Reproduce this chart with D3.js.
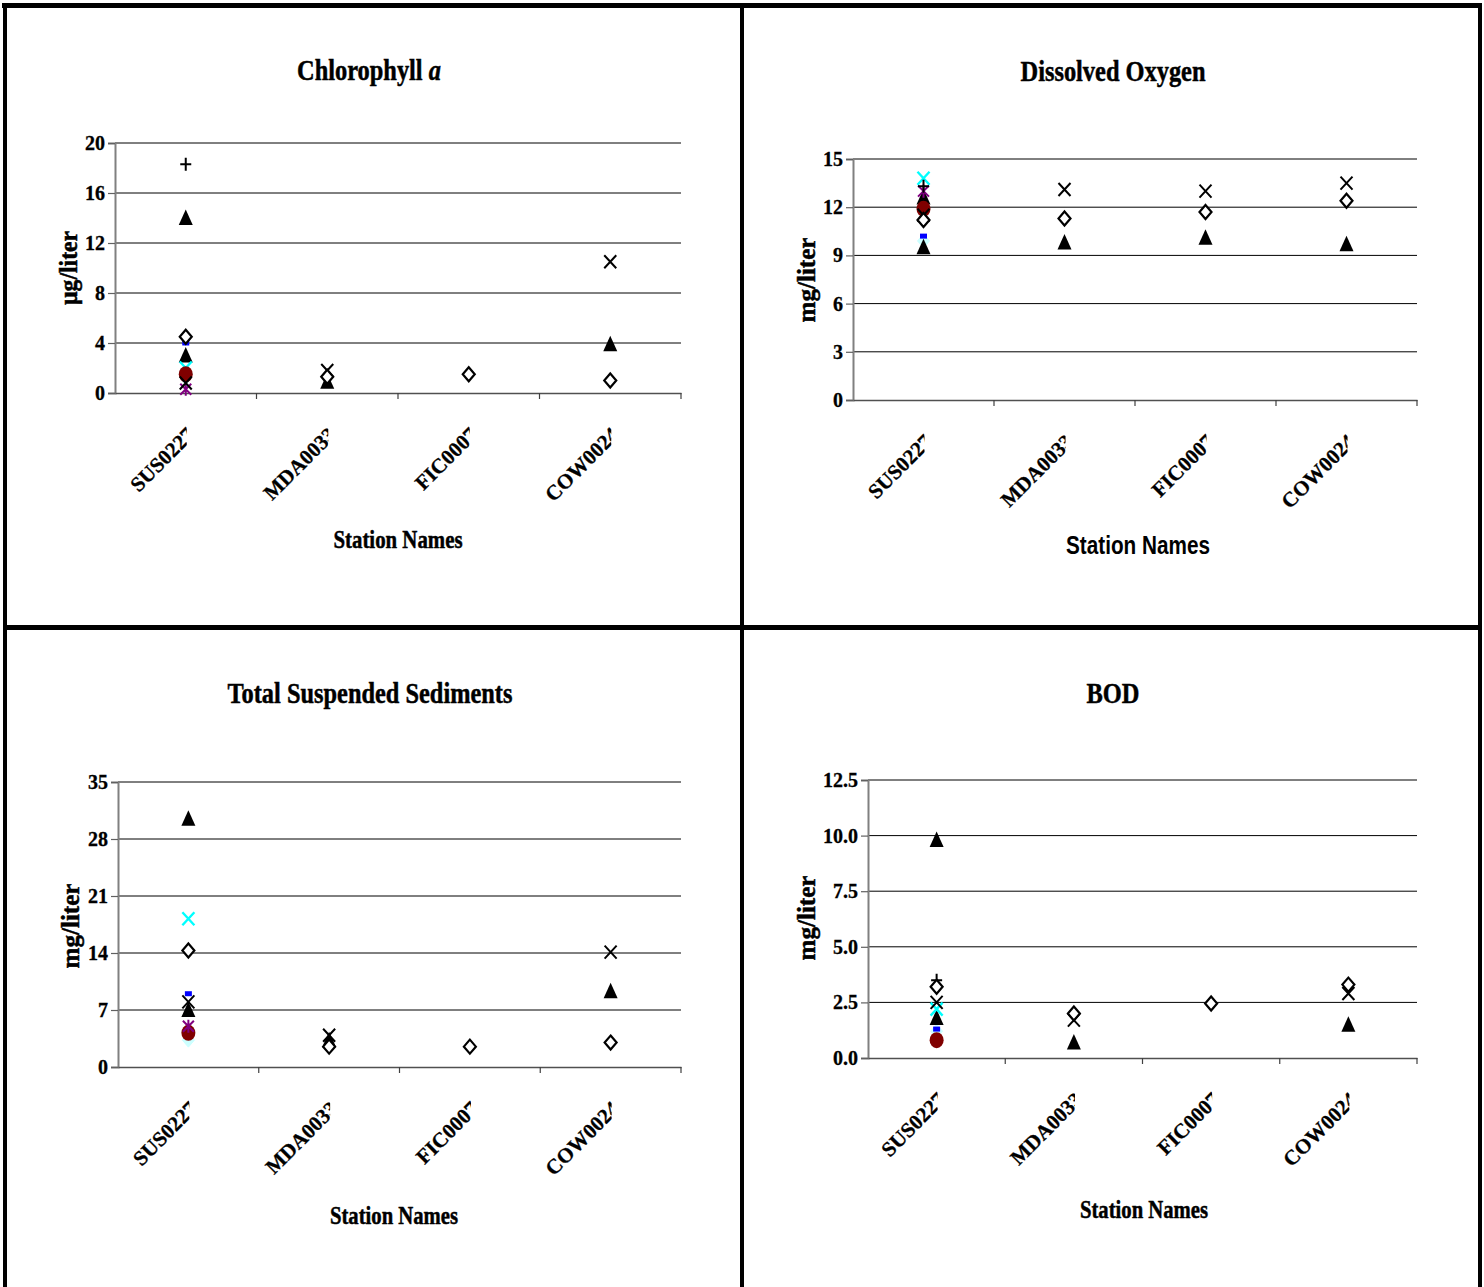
<!DOCTYPE html>
<html><head><meta charset="utf-8">
<script src="https://cdn.jsdelivr.net/npm/d3@7"></script>
<style>
html,body{margin:0;padding:0;background:#fff;}
svg{display:block;font-family:"Liberation Serif","Times New Roman",serif;}
text{font-weight:bold;}
</style></head><body>
<svg id="chart" width="1484" height="1287"></svg>
<script>
// ---------------- DATA ----------------
const stations = ["SUS0227", "MDA0033", "FIC0007", "COW0024"];
// series in drawing order (later ones are drawn on top)
const seriesKeys = ["diamondPale", "dashBlue", "triangle2", "xCyan", "circleRed", "starPurple", "xBlack", "plus", "triangle", "diamondOpen"];

const chlTicks = [0, 4, 8, 12, 16, 20];
const doTicks = [0, 3, 6, 9, 12, 15];
const tssTicks = [0, 7, 14, 21, 28, 35];
const bodTicks = [0, 2.5, 5, 7.5, 10, 12.5];

// rows follow seriesKeys, columns follow stations
const chlValues = [
  [1.2, null, null, null],
  [4.0, null, null, null],
  [3.0, null, null, null],
  [2.0, null, null, null],
  [1.5, null, null, null],
  [0.3, null, null, null],
  [0.8, 1.8, null, 10.5],
  [18.3, null, null, null],
  [14.0, 0.9, null, 3.9],
  [4.5, 1.3, 1.5, 1.0]
];
const doValues = [
  [9.9, null, null, null],
  [10.2, null, null, null],
  [12.6, null, null, null],
  [13.8, null, null, null],
  [11.9, null, null, null],
  [13.0, null, null, null],
  [11.5, 13.1, 13.0, 13.5],
  [13.3, null, null, null],
  [9.5, 9.8, 10.1, 9.7],
  [11.2, 11.3, 11.7, 12.4]
];
const tssValues = [
  [3.3, null, null, null],
  [9.0, null, null, null],
  [7.0, null, null, null],
  [18.2, null, null, null],
  [4.2, null, null, null],
  [5.0, null, null, null],
  [8.0, 3.9, null, 14.1],
  [null, null, null, null],
  [30.5, 3.3, null, 9.3],
  [14.3, 2.5, 2.5, 3.0]
];
const bodValues = [
  [1.2, null, null, null],
  [1.3, null, null, null],
  [1.8, null, null, null],
  [2.2, null, null, null],
  [0.8, null, null, null],
  [null, null, null, null],
  [2.5, 1.7, null, 2.9],
  [3.5, null, null, null],
  [9.8, 0.7, null, 1.5],
  [3.2, 2.0, 2.45, 3.3]
];

// ---------------- STYLES / LAYOUT ----------------
const markerStyle = {
  diamondOpen: {d: "M0,-7L6,0L0,7L-6,0Z", fill: "#fff", stroke: "#000", sw: 2.2},
  diamondPale: {d: "M0,-7L6,0L0,7L-6,0Z", fill: "#CCFFFF", stroke: "#CCFFFF", sw: 1},
  triangle: {d: "M0,-8.5L7,7L-7,7Z", fill: "#000", stroke: "none", sw: 0},
  triangle2: {d: "M0,-8.5L7,7L-7,7Z", fill: "#000", stroke: "none", sw: 0},
  xBlack: {d: "M-6,-6.5L6,6.5M6,-6.5L-6,6.5", fill: "none", stroke: "#000", sw: 2},
  xCyan: {d: "M-6,-6.5L6,6.5M6,-6.5L-6,6.5", fill: "none", stroke: "#00FFFF", sw: 2.4},
  plus: {d: "M-5.5,0L5.5,0M0,-6.5L0,6.5", fill: "none", stroke: "#000", sw: 2},
  circleRed: {ellipse: true, rx: 7, ry: 8, fill: "#800000"},
  dashBlue: {d: "M-3.5,-2.5h7v5h-7Z", fill: "#0000FF", stroke: "none", sw: 0},
  starPurple: {d: "M-5.5,-5.5L5.5,5.5M5.5,-5.5L-5.5,5.5M0,-6.5L0,6.5", fill: "none", stroke: "#800080", sw: 2}
};

const SERIF = '"Liberation Serif","Times New Roman",serif';
const SANS = '"Liberation Sans",Arial,sans-serif';

const panels = [
  {id: "chl", title: "Chlorophyll ", titleItalic: "a", values: chlValues, ticks: chlTicks, fmt: d3.format("d"),
   yTitle: "µg/liter", box: {x0: 115, x1: 681, y0: 143, y1: 393},
   tX: 369, tY: 80, tLen: 144, ytX: 77, ytY: 268, ytLen: 74,
   xtX: 398, xtY: 548, xtLen: 129, xtFont: SERIF},
  {id: "do", title: "Dissolved Oxygen", values: doValues, ticks: doTicks, fmt: d3.format("d"),
   yTitle: "mg/liter", box: {x0: 853, x1: 1417, y0: 159, y1: 400},
   tX: 1113, tY: 81, tLen: 185, ytX: 815, ytY: 280, ytLen: 85,
   xtX: 1138, xtY: 554, xtLen: 144, xtFont: SANS},
  {id: "tss", title: "Total Suspended Sediments", values: tssValues, ticks: tssTicks, fmt: d3.format("d"),
   yTitle: "mg/liter", box: {x0: 118, x1: 681, y0: 782, y1: 1067},
   tX: 370, tY: 703, tLen: 285, ytX: 79, ytY: 926, ytLen: 85,
   xtX: 394, xtY: 1224, xtLen: 128, xtFont: SERIF},
  {id: "bod", title: "BOD", values: bodValues, ticks: bodTicks, fmt: d3.format(".1f"),
   yTitle: "mg/liter", box: {x0: 868, x1: 1417, y0: 780, y1: 1058},
   tX: 1113, tY: 703, tLen: 53, ytX: 815, ytY: 918, ytLen: 85,
   xtX: 1144, xtY: 1218, xtLen: 128, xtFont: SERIF}
];

const svg = d3.select("#chart");

// panel frames
const frame = svg.append("g");
frame.append("line").attr("x1", 2).attr("x2", 1482).attr("y1", 5.5).attr("y2", 5.5).attr("stroke", "#000").attr("stroke-width", 5);
frame.append("line").attr("x1", 5).attr("x2", 5).attr("y1", 3).attr("y2", 1287).attr("stroke", "#000").attr("stroke-width", 4);
frame.append("line").attr("x1", 742).attr("x2", 742).attr("y1", 3).attr("y2", 1287).attr("stroke", "#000").attr("stroke-width", 4);
frame.append("line").attr("x1", 1480).attr("x2", 1480).attr("y1", 3).attr("y2", 1287).attr("stroke", "#000").attr("stroke-width", 4);
frame.append("line").attr("x1", 3).attr("x2", 1482).attr("y1", 627.5).attr("y2", 627.5).attr("stroke", "#000").attr("stroke-width", 5);

const heavy = sel => sel.attr("stroke", "#000").attr("stroke-width", 0.5).attr("fill", "#000");

panels.forEach((p, pi) => {
  const b = p.box;
  const g = svg.append("g");
  const x = d3.scaleBand().domain(stations).range([b.x0, b.x1]).padding(0);
  const y = d3.scaleLinear().domain([0, d3.max(p.ticks)]).range([b.y1, b.y0]);
  const cx = s => x(s) + x.bandwidth() / 2;

  // title: laid out naturally, then horizontally condensed to the target width
  const tg = g.append("g");
  const t = tg.append("text").attr("x", 0).attr("y", 0).attr("text-anchor", "middle")
    .attr("font-size", 30).call(heavy);
  t.append("tspan").text(p.title);
  if (p.titleItalic) t.append("tspan").attr("font-style", "italic").text(p.titleItalic);
  const natural = t.node().getComputedTextLength() || p.tLen;
  tg.attr("transform", `translate(${p.tX},${p.tY}) scale(${p.tLen / natural},1)`);

  // gridlines
  g.selectAll(".grid").data(p.ticks.filter(v => v > 0)).join("line")
    .attr("x1", b.x0).attr("x2", b.x1).attr("y1", d => y(d)).attr("y2", d => y(d))
    .attr("stroke", "#000").attr("stroke-width", 1);

  // y axis
  const yAxis = d3.axisLeft(y).tickValues(p.ticks).tickFormat(p.fmt).tickSize(7).tickPadding(3);
  const ya = g.append("g").attr("transform", `translate(${b.x0},0)`).call(yAxis);
  ya.select(".domain").attr("stroke", "#808080").attr("stroke-width", 2);
  ya.selectAll(".tick line").attr("stroke", "#606060").attr("stroke-width", 1.2);
  ya.selectAll(".tick text").attr("font-family", SERIF).attr("font-weight", "bold").attr("font-size", 20)
    .attr("fill", "#000").attr("stroke", "#000").attr("stroke-width", 0.3);

  // x axis (baseline + category boundary ticks)
  const xa = g.append("g").attr("transform", `translate(0,${b.y1})`)
    .call(d3.axisBottom(x).tickSize(0).tickFormat(""));
  xa.select(".domain").attr("stroke", "#505050").attr("stroke-width", 1.5);
  xa.selectAll(".tick").remove();
  const bounds = stations.map(s => x(s) + x.bandwidth());
  g.selectAll(".xtick").data(bounds).join("line")
    .attr("x1", d => d).attr("x2", d => d).attr("y1", b.y1).attr("y2", b.y1 + 6)
    .attr("stroke", "#404040").attr("stroke-width", 1.2);

  // rotated, clipped category labels
  stations.forEach((s, i) => {
    const id = `clip-${p.id}-${i}`;
    g.append("clipPath").attr("id", id).append("rect")
      .attr("x", cx(s) - 150).attr("y", b.y1 + 8).attr("width", 151).attr("height", 150);
    g.append("g").attr("clip-path", `url(#${id})`).append("text")
      .attr("transform", `translate(${cx(s) + 10},${b.y1 + 43}) rotate(-45)`)
      .attr("text-anchor", "end").attr("font-size", 21).call(heavy).attr("stroke-width", 0.3).text(s);
  });

  // y title
  g.append("text").attr("transform", `translate(${p.ytX},${p.ytY}) rotate(-90)`)
    .attr("text-anchor", "middle").attr("font-size", 25)
    .attr("textLength", p.ytLen).attr("lengthAdjust", "spacingAndGlyphs").call(heavy).text(p.yTitle);

  // x title
  g.append("text").attr("x", p.xtX).attr("y", p.xtY).attr("text-anchor", "middle")
    .attr("font-size", 26).style("font-family", p.xtFont)
    .attr("textLength", p.xtLen).attr("lengthAdjust", "spacingAndGlyphs").call(heavy)
    .attr("stroke-width", p.xtFont === SANS ? 0 : 0.5).text("Station Names");

  // markers
  seriesKeys.forEach((k, si) => {
    const st = markerStyle[k];
    const pts = p.values[si].map((v, j) => ({v, s: stations[j]})).filter(d => d.v != null);
    const mg = g.append("g").attr("class", "series " + k);
    if (st.ellipse) {
      mg.selectAll("ellipse").data(pts).join("ellipse")
        .attr("cx", d => cx(d.s)).attr("cy", d => y(d.v))
        .attr("rx", st.rx).attr("ry", st.ry).attr("fill", st.fill);
    } else {
      mg.selectAll("path").data(pts).join("path")
        .attr("transform", d => `translate(${cx(d.s)},${y(d.v)})`)
        .attr("d", st.d).attr("fill", st.fill).attr("stroke", st.stroke).attr("stroke-width", st.sw);
    }
  });
});
</script>
</body></html>
